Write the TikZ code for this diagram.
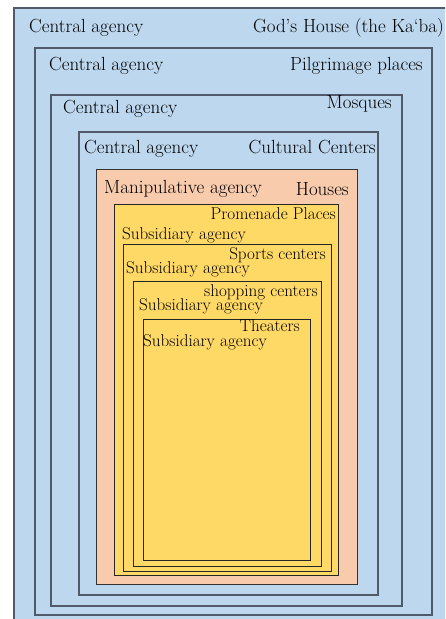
\documentclass[tikz,border=0pt]{standalone}
\usepackage{fontspec}
\usetikzlibrary{positioning}

\definecolor{skyfill}{HTML}{BDD7EE}
\definecolor{peachfill}{HTML}{F8CBAD}
\definecolor{sunfill}{HTML}{FFD966}
\definecolor{frameline}{HTML}{505A6B}

\tikzset{
  skybox/.style={draw=frameline, line width=1.3pt, fill=skyfill},
  peachbox/.style={draw=black!80, line width=1pt, fill=peachfill},
  sunbox/.style={draw=black!85, line width=0.9pt, fill=sunfill},
  biglabel/.style={inner sep=0pt, text=black, font=\fontsize{19}{22}\selectfont},
  smalllabel/.style={inner sep=0pt, text=black, font=\fontsize{17.1}{20}\selectfont},
}

\begin{document}
\begin{tikzpicture}[x=1pt, y=-1pt]
    \useasboundingbox (0,0) rectangle (445,619);
    \clip (0,0) rectangle (445,619);

    % nested frames, outside in
    \draw [skybox] (14,8) rectangle (452,632);
    \draw [skybox] (35,48) rectangle (432,615);
    \draw [skybox] (51,95) rectangle (402,606);
    \draw [skybox] (79,132) rectangle (378,595);
    \draw [peachbox] (96,169) rectangle (357,584);
    \draw [sunbox] (114,204) rectangle (338,575);
    \draw [sunbox] (123,244) rectangle (331,571);
    \draw [sunbox] (133,281) rectangle (321,566);
    \draw [sunbox] (143,319) rectangle (310,560);

    % labels
    \node [biglabel, anchor=base west] (ca1) at (29,32) {Central agency};
    \node [biglabel, anchor=base east] (kaaba) at (444,32) {God’s House (the Ka‘ba)};

    \node [biglabel, anchor=base west] (ca2) at (49,70) {Central agency};
    \node [biglabel, anchor=base east] (pilgrim) at (423,70) {Pilgrimage places};

    \node [biglabel, anchor=base west] (ca3) at (63,113) {Central agency};
    \node [biglabel, anchor=base east] (mosques) at (392,108) {Mosques};

    \node [biglabel, anchor=base west] (ca4) at (84,153) {Central agency};
    \node [biglabel, anchor=base east] (cultural) at (376,153) {Cultural Centers};

    \node [biglabel, anchor=base west] (manip) at (104,193) {Manipulative agency};
    \node [biglabel, anchor=base east] (houses) at (349,195) {Houses};

    \node [smalllabel, anchor=base east] (promenade) at (336,219) {Promenade Places};
    \node [smalllabel, anchor=base west] (sub1) at (122,239) {Subsidiary agency};

    \node [smalllabel, anchor=base east] (sports) at (326,259) {Sports centers};
    \node [smalllabel, anchor=base west] (sub2) at (126,273) {Subsidiary agency};

    \node [smalllabel, anchor=base east] (shopping) at (318,296) {shopping centers};
    \node [smalllabel, anchor=base west] (sub3) at (139,310) {Subsidiary agency};

    \node [smalllabel, anchor=base east] (theaters) at (300,331) {Theaters};
    \node [smalllabel, anchor=base west] (sub4) at (143,346) {Subsidiary agency};
\end{tikzpicture}
\end{document}
